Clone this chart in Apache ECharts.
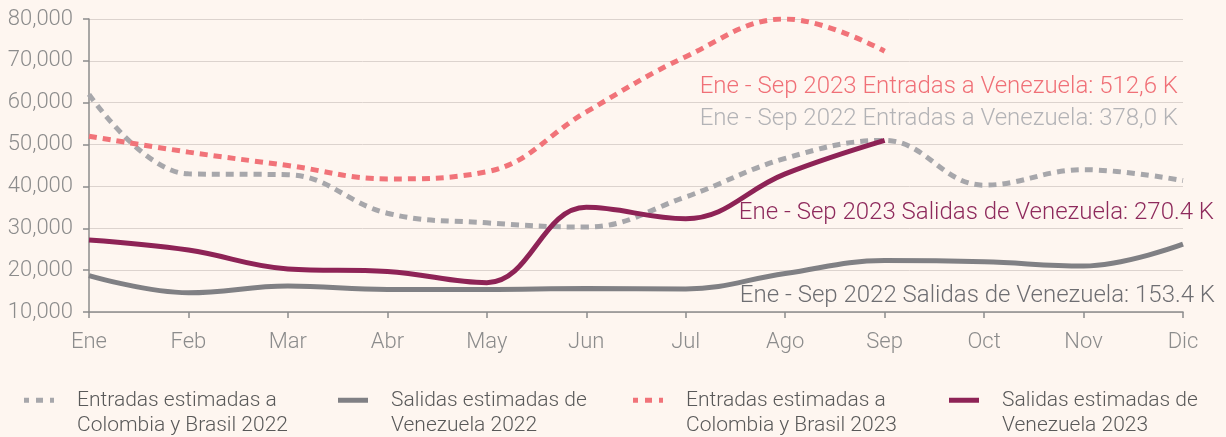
<!DOCTYPE html>
<html>
<head>
<meta charset="utf-8">
<script src="https://cdn.jsdelivr.net/npm/echarts@6/dist/echarts.min.js"></script>
<style>
  html, body { margin: 0; padding: 0; background: #fef6f0; }
  #chart { width: 1226px; height: 437px; }
</style>
</head>
<body>
<div id="chart"></div>
<script>
// Monthly flows (people)
const months = ['Ene', 'Feb', 'Mar', 'Abr', 'May', 'Jun', 'Jul', 'Ago', 'Sep', 'Oct', 'Nov', 'Dic'];
const entradas2022 = [62000, 43000, 42800, 33600, 31300, 30300, 37500, 46700, 51000, 40300, 44000, 41400];
const salidas2022 = [18700, 14600, 16200, 15400, 15400, 15600, 15500, 19200, 22300, 22000, 21000, 26200];
const entradas2023 = [52000, 48200, 45000, 41800, 43500, 57800, 71000, 80000, 72300];
const salidas2023 = [27200, 24800, 20300, 19700, 17000, 35000, 32300, 43000, 51000];
const yTicks = { min: 10000, max: 80000, step: 10000 };

const names = [
  'Entradas estimadas a\nColombia y Brasil 2022',
  'Salidas estimadas de\nVenezuela 2022',
  'Entradas estimadas a\nColombia y Brasil 2023',
  'Salidas estimadas de\nVenezuela 2023'
];
const notes = [
  { text: 'Ene - Sep 2023 Entradas a Venezuela: 512,6 K', color: '#f07077', right: 1178, y: 87 },
  { text: 'Ene - Sep 2022 Entradas a Venezuela: 378,0 K', color: '#b3b3b6', right: 1178, y: 119 },
  { text: 'Ene - Sep 2023 Salidas de Venezuela: 270.4 K', color: '#8e2a5c', right: 1214, y: 213 },
  { text: 'Ene - Sep 2022 Salidas de Venezuela: 153.4 K', color: '#6e6e72', right: 1215, y: 296 }
];

const FONT = 'Roboto';
const DOT_ICON = 'path://M0,0h5v5h-5z M12,0h7v5h-7z M26,0h4v5h-4z';
const BAR_ICON = 'path://M0,0h30v5h-30z';

const chart = echarts.init(document.getElementById('chart'), null, { renderer: 'canvas' });

function lineSeries(name, data, color, dashed) {
  return {
    name: name,
    type: 'line',
    data: data,
    smooth: 0.4,
    showSymbol: false,
    symbol: 'none',
    lineStyle: {
      color: color,
      width: 5,
      type: dashed ? [8, 6] : 'solid',
      cap: 'butt'
    },
    itemStyle: { color: color },
    emphasis: { disabled: true }
  };
}

// The empty leading line keeps the icon level with the first text line
function legendAt(name, icon, left) {
  return {
    data: [{ name: name, icon: icon }],
    left: left,
    top: 357,
    orient: 'horizontal',
    itemWidth: 30,
    itemHeight: 5,
    itemGap: 0,
    selectedMode: false,
    itemStyle: { borderWidth: 0 },
    formatter: n => '\n' + n,
    textStyle: {
      fontFamily: FONT,
      fontWeight: 300,
      fontSize: 21,
      color: '#595959',
      lineHeight: 25.5,
      padding: [0, 0, 0, 18]
    }
  };
}

chart.setOption({
  backgroundColor: '#fef6f0',
  animation: false,
  grid: { left: 89, right: 43, top: 19, bottom: 125 },
  legend: [
    legendAt(names[0], DOT_ICON, 19),
    legendAt(names[1], BAR_ICON, 333),
    legendAt(names[2], DOT_ICON, 628),
    legendAt(names[3], BAR_ICON, 944)
  ],
  xAxis: {
    type: 'category',
    data: months,
    boundaryGap: false,
    axisLine: { lineStyle: { color: '#8c8c8c', width: 1.5 } },
    axisTick: { show: true, length: 6, lineStyle: { color: '#8c8c8c', width: 1.5 } },
    axisLabel: { fontFamily: FONT, fontWeight: 300, fontSize: 22, color: '#8c8c8c', margin: 19 },
    splitLine: { show: false }
  },
  yAxis: {
    type: 'value',
    min: yTicks.min,
    max: yTicks.max,
    interval: yTicks.step,
    axisLine: { show: true, lineStyle: { color: '#8c8c8c', width: 1.5 } },
    axisTick: { show: true, length: 6, lineStyle: { color: '#8c8c8c', width: 1.5 } },
    axisLabel: {
      fontFamily: FONT, fontWeight: 300, fontSize: 22, color: '#8c8c8c', margin: 16,
      formatter: v => v.toLocaleString('en-US')
    },
    splitLine: { lineStyle: { color: '#dcd3ce', width: 1 } }
  },
  series: [
    lineSeries(names[0], entradas2022, '#a7a7ab', true),
    lineSeries(names[1], salidas2022, '#808084', false),
    lineSeries(names[2], entradas2023, '#f17379', true),
    lineSeries(names[3], salidas2023, '#8e2356', false)
  ],
  graphic: notes.map(n => ({
    type: 'text',
    x: n.right,
    y: n.y,
    silent: true,
    style: {
      text: n.text,
      fill: n.color,
      font: '300 24px ' + FONT,
      align: 'right',
      verticalAlign: 'middle'
    }
  }))
});
</script>
</body>
</html>
